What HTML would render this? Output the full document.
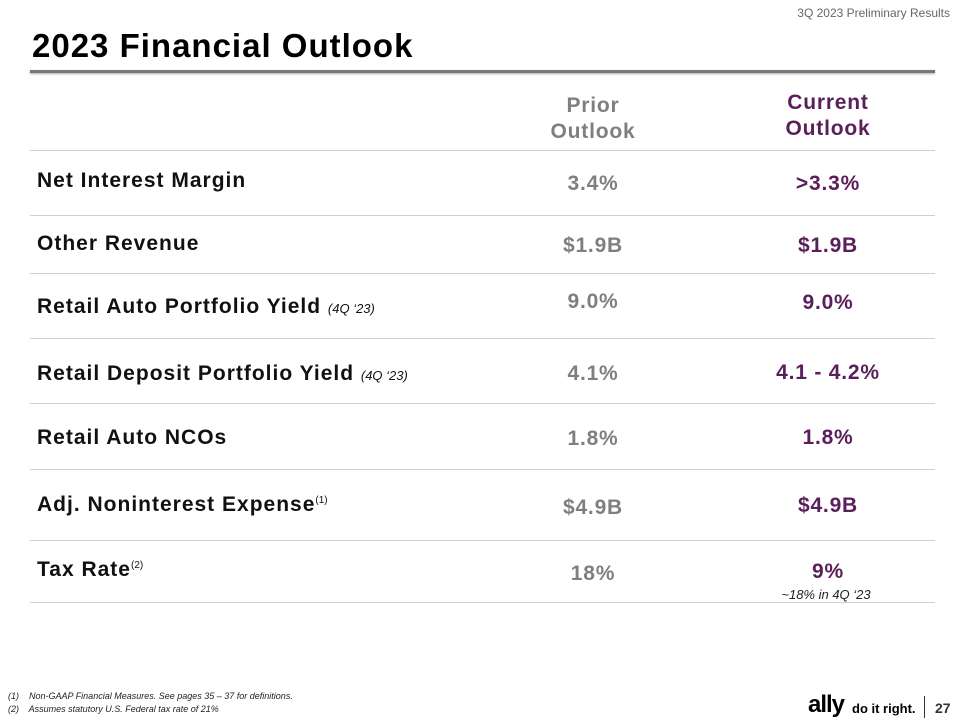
<!DOCTYPE html>
<html><head><meta charset="utf-8"><style>
body{margin:0;width:960px;height:720px;background:#fff;position:relative;overflow:hidden;font-family:"Liberation Sans",sans-serif}
.a{position:absolute;white-space:nowrap}
.lbl{left:37px;font-weight:bold;font-size:21px;letter-spacing:1px;color:#111;transform:translateY(-50%)}
.pv,.cv{font-weight:bold;font-size:21px;letter-spacing:0.8px;transform:translate(-50%,-50%)}
.pv{color:#7f7f7f}.cv{color:#5a1e5a}
.hr{position:absolute;left:30px;width:905px;height:1px;background:#d0d0d0}
.sm{font-size:13px;font-weight:normal;font-style:italic;letter-spacing:0}
sup{font-size:10px;font-weight:normal;letter-spacing:0}
</style></head><body>
<div class="a" style="right:10px;top:6px;font-size:12px;color:#666">3Q 2023 Preliminary Results</div>
<div class="a" style="left:32px;top:27px;font-size:33px;font-weight:bold;letter-spacing:1px;color:#000">2023 Financial Outlook</div>
<div class="a" style="left:30px;top:70px;width:905px;height:3px;background:#777;box-shadow:0 1px 2px #aaa"></div>
<div class="a" style="left:593px;top:93px;transform:translateX(-50%);text-align:center;font-weight:bold;font-size:21px;letter-spacing:0.8px;line-height:26px;color:#7f7f7f">Prior<br>Outlook</div>
<div class="a" style="left:828px;top:90px;transform:translateX(-50%);text-align:center;font-weight:bold;font-size:21px;letter-spacing:0.8px;line-height:26px;color:#5a1e5a">Current<br>Outlook</div>
<div class="hr" style="top:150px"></div><div class="hr" style="top:215px"></div><div class="hr" style="top:273px"></div><div class="hr" style="top:338px"></div><div class="hr" style="top:403px"></div><div class="hr" style="top:469px"></div><div class="hr" style="top:540px"></div><div class="hr" style="top:602px"></div>

<div class="a lbl" style="top:181px">Net Interest Margin</div>
<div class="a pv" style="left:593px;top:184px">3.4%</div>
<div class="a cv" style="left:828px;top:184px">&gt;3.3%</div>

<div class="a lbl" style="top:244px">Other Revenue</div>
<div class="a pv" style="left:593px;top:246px">$1.9B</div>
<div class="a cv" style="left:828px;top:246px">$1.9B</div>

<div class="a lbl" style="top:307px">Retail Auto Portfolio Yield <span class="sm">(4Q ‘23)</span></div>
<div class="a pv" style="left:593px;top:302px">9.0%</div>
<div class="a cv" style="left:828px;top:303px">9.0%</div>

<div class="a lbl" style="top:374px">Retail Deposit Portfolio Yield <span class="sm">(4Q ‘23)</span></div>
<div class="a pv" style="left:593px;top:374px">4.1%</div>
<div class="a cv" style="left:828px;top:373px">4.1 - 4.2%</div>

<div class="a lbl" style="top:438px">Retail Auto NCOs</div>
<div class="a pv" style="left:593px;top:439px">1.8%</div>
<div class="a cv" style="left:828px;top:438px">1.8%</div>

<div class="a lbl" style="top:505px">Adj. Noninterest Expense<sup>(1)</sup></div>
<div class="a pv" style="left:593px;top:508px">$4.9B</div>
<div class="a cv" style="left:828px;top:506px">$4.9B</div>

<div class="a lbl" style="top:570px">Tax Rate<sup>(2)</sup></div>
<div class="a pv" style="left:593px;top:574px">18%</div>
<div class="a cv" style="left:828px;top:572px">9%</div>
<div class="a" style="left:826px;top:587px;transform:translateX(-50%);font-size:13px;font-style:italic;color:#222">~18% in 4Q ‘23</div>

<div class="a" style="left:8px;top:691px;font-size:9px;font-style:italic;color:#222">(1)&nbsp;&nbsp;&nbsp; Non-GAAP Financial Measures. See pages 35 – 37 for definitions.</div>
<div class="a" style="left:8px;top:704px;font-size:9px;font-style:italic;color:#222">(2)&nbsp;&nbsp;&nbsp; Assumes statutory U.S. Federal tax rate of 21%</div>
<div class="a" style="left:808px;top:693px;font-size:24px;font-weight:bold;color:#000;letter-spacing:-1px;line-height:24px">ally</div>
<div class="a" style="left:852px;top:701px;font-size:13px;font-weight:bold;color:#000">do it right.</div>
<div class="a" style="left:924px;top:696px;width:1px;height:22px;background:#333"></div>
<div class="a" style="left:935px;top:700px;font-size:14px;font-weight:bold;color:#333">27</div>
</body></html>
